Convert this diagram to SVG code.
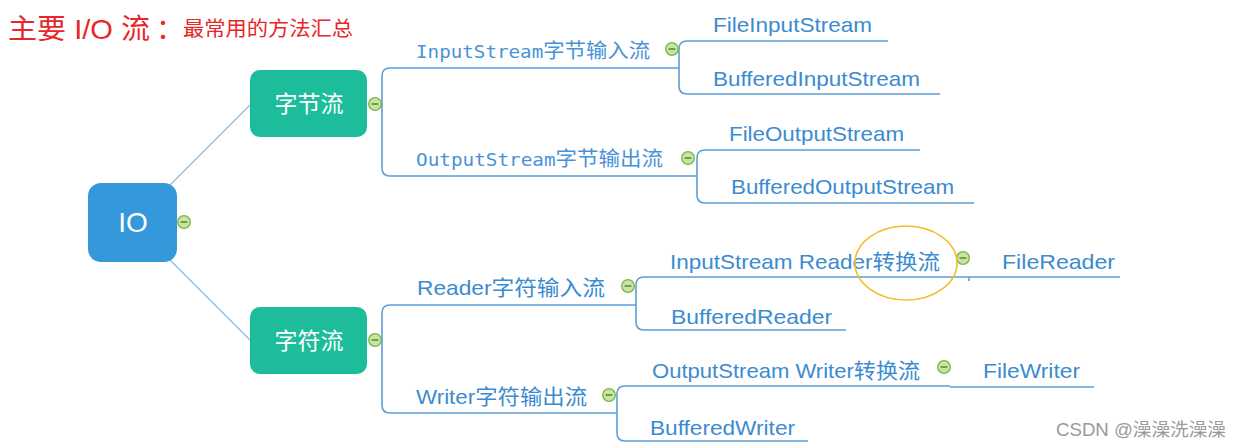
<svg xmlns="http://www.w3.org/2000/svg" width="1242" height="448" viewBox="0 0 1242 448">
<defs>
<style>
.bg{fill:#ffffff}
.title{font-family:"Liberation Sans","Noto Sans CJK SC",sans-serif;fill:#e8262a}
.root{fill:#3498db}
.main{fill:#1dbd9c}
.nt{font-family:"Liberation Sans","Noto Sans CJK SC",sans-serif;fill:#ffffff;text-anchor:middle;dominant-baseline:central}
.lbl{font-family:"Liberation Sans","Noto Sans CJK SC",sans-serif;font-size:21px;fill:#3b8bd0}
.mono{font-family:"DejaVu Sans Mono","Noto Sans CJK SC",monospace;font-size:18px;fill:#4a92d8}
.cjk{font-family:"Noto Sans CJK SC",sans-serif;font-size:20px}
.ln{fill:none;stroke:#5d9fd6;stroke-width:1.6}
.tie{fill:none;stroke:#8fbfe3;stroke-width:1.4}
.col circle{fill:#c9e3a6;stroke:#78b543;stroke-width:1.3}
.col line{stroke:#5d8f2e;stroke-width:1.6}
.wm{font-family:"Liberation Sans","Noto Sans CJK SC",sans-serif;font-size:18px;fill:#9a9a9a}
</style>
<g id="minus" class="col"><circle cx="0" cy="0" r="6.3"/><line x1="-3.4" y1="0" x2="3.4" y2="0"/></g>
</defs>
<rect class="bg" x="0" y="0" width="1242" height="448"/>

<g id="title">
<text class="title" x="8" y="39" font-size="28" textLength="142" lengthAdjust="spacingAndGlyphs">主要 I/O 流</text>
<text class="title" x="156" y="39" font-size="28">：</text>
<text class="title" x="183" y="36" font-size="20" textLength="170" lengthAdjust="spacingAndGlyphs">最常用的方法汇总</text>
</g>

<g id="connectors">
<line class="tie" x1="170" y1="185" x2="250" y2="105"/>
<line class="tie" x1="170" y1="260" x2="250" y2="340"/>
<path class="ln" d="M679 68 H390 Q382 68 382 76 V168 Q382 176 390 176 H697"/>
<path class="ln" d="M888 41 H687 Q679 41 679 49 V86 Q679 94 687 94 H940"/>
<path class="ln" d="M920 150 H705 Q697 150 697 158 V195 Q697 203 705 203 H974"/>
<path class="ln" d="M636 305 H390 Q382 305 382 313 V405 Q382 413 390 413 H617"/>
<path class="ln" d="M1120 277 H644 Q636 277 636 285 V322 Q636 330 644 330 H846"/>
<line class="ln" x1="969" y1="277" x2="969" y2="281" stroke-width="1"/>
<path class="ln" d="M950 386 H625 Q617 386 617 394 V433 Q617 441 625 441 H808"/>
<line class="ln" x1="950" y1="387" x2="1094" y2="387"/>
</g>

<g id="node-io">
<rect class="root" x="88" y="183" width="89" height="79" rx="13"/>
<text class="nt" x="133" y="222" font-size="28">IO</text>
<use href="#minus" x="184" y="222"/>
</g>

<g id="node-byte">
<rect class="main" x="250" y="70" width="117" height="67" rx="10"/>
<text class="nt" x="309" y="104" font-size="23">字节流</text>
<use href="#minus" x="375" y="104"/>
</g>

<g id="node-char">
<rect class="main" x="250" y="307" width="117" height="67" rx="10"/>
<text class="nt" x="309" y="341" font-size="23">字符流</text>
<use href="#minus" x="375" y="340"/>
</g>

<g id="node-inputstream">
<text class="mono" x="416" y="58" textLength="234" lengthAdjust="spacingAndGlyphs">InputStream<tspan class="cjk">字节输入流</tspan></text>
<use href="#minus" x="672" y="49"/>
</g>
<g id="node-fileinputstream"><text class="lbl" x="713" y="32" textLength="159" lengthAdjust="spacingAndGlyphs">FileInputStream</text></g>
<g id="node-bufferedinputstream"><text class="lbl" x="713" y="86" textLength="207" lengthAdjust="spacingAndGlyphs">BufferedInputStream</text></g>

<g id="node-outputstream">
<text class="mono" x="416" y="166" textLength="247" lengthAdjust="spacingAndGlyphs">OutputStream<tspan class="cjk">字节输出流</tspan></text>
<use href="#minus" x="688" y="158"/>
</g>
<g id="node-fileoutputstream"><text class="lbl" x="729" y="141" textLength="175" lengthAdjust="spacingAndGlyphs">FileOutputStream</text></g>
<g id="node-bufferedoutputstream"><text class="lbl" x="731" y="194" textLength="223" lengthAdjust="spacingAndGlyphs">BufferedOutputStream</text></g>

<g id="node-reader">
<text class="lbl" x="417" y="295" textLength="188" lengthAdjust="spacingAndGlyphs">Reader字符输入流</text>
<use href="#minus" x="628" y="286"/>
</g>
<g id="node-inputstreamreader">
<text class="lbl" x="670" y="269" textLength="270" lengthAdjust="spacingAndGlyphs">InputStream Reader转换流</text>
<use href="#minus" x="963" y="258"/>
</g>
<ellipse id="highlight" cx="906" cy="263" rx="51" ry="37" fill="none" stroke="#f4bd2c" stroke-width="1.6"/>
<g id="node-filereader"><text class="lbl" x="1002" y="269" textLength="113" lengthAdjust="spacingAndGlyphs">FileReader</text></g>
<g id="node-bufferedreader"><text class="lbl" x="671" y="324" textLength="161" lengthAdjust="spacingAndGlyphs">BufferedReader</text></g>

<g id="node-writer">
<text class="lbl" x="416" y="404" textLength="171" lengthAdjust="spacingAndGlyphs">Writer字符输出流</text>
<use href="#minus" x="609" y="395"/>
</g>
<g id="node-outputstreamwriter">
<text class="lbl" x="652" y="378" textLength="268" lengthAdjust="spacingAndGlyphs">OutputStream Writer转换流</text>
<use href="#minus" x="944" y="367"/>
</g>
<g id="node-filewriter"><text class="lbl" x="983" y="378" textLength="97" lengthAdjust="spacingAndGlyphs">FileWriter</text></g>
<g id="node-bufferedwriter"><text class="lbl" x="650" y="435" textLength="145" lengthAdjust="spacingAndGlyphs">BufferedWriter</text></g>

<text class="wm" x="1056" y="436" textLength="170" lengthAdjust="spacingAndGlyphs">CSDN @澡澡洗澡澡</text>
</svg>
